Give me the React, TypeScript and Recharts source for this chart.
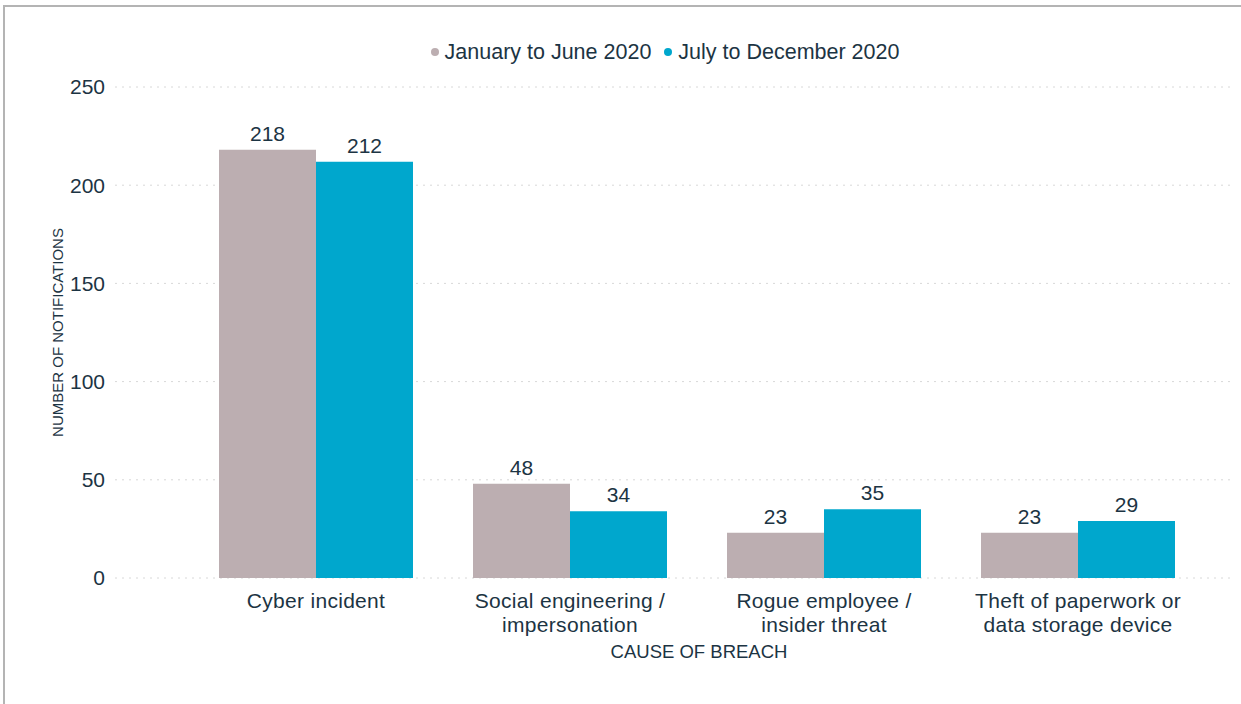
import { BarChart, Bar, XAxis, YAxis, CartesianGrid, Legend, LabelList, Label } from "recharts";

const categoryLines = [
  ["Cyber incident"],
  ["Social engineering /", "impersonation"],
  ["Rogue employee /", "insider threat"],
  ["Theft of paperwork or", "data storage device"],
];
const categories = categoryLines.map((l) => l.join(" "));
const janToJun = [218, 48, 23, 23];
const julToDec = [212, 34, 35, 29];
const yTicks = [0, 50, 100, 150, 200, 250];

const seriesNames = ["January to June 2020", "July to December 2020"];
const colors = ["#bcaeb1", "#00a7cd"];
const ink = "#1c3443";
const font = "'Liberation Sans', Arial, sans-serif";

const data = categories.map((name, i) => ({ name, h1: janToJun[i], h2: julToDec[i] }));

function CategoryTick({ x, y, payload, index }: any) {
  const lines = categoryLines[index] ?? [payload.value];
  return (
    <text x={x} y={y + 22} textAnchor="middle" fill={ink} fontSize={21} letterSpacing={0.3} fontFamily={font}>
      {lines.map((l: string, i: number) => (
        <tspan key={i} x={x} dy={i ? 24 : 0}>
          {l}
        </tspan>
      ))}
    </text>
  );
}

function LegendContent() {
  return (
    <div style={{ display: "flex", justifyContent: "center", alignItems: "center", height: 24, lineHeight: "24px", fontFamily: font, fontSize: 21.5, color: ink }}>
      {seriesNames.map((n, i) => (
        <div key={n} style={{ display: "flex", alignItems: "center", marginLeft: i ? 13 : 0 }}>
          <span style={{ width: 8, height: 8, borderRadius: "50%", background: colors[i], marginRight: 6, display: "inline-block" }} />
          {n}
        </div>
      ))}
    </div>
  );
}

function XTitle({ viewBox }: any) {
  const cx = viewBox.x + viewBox.width / 2 + 24;
  return (
    <text x={cx} y={658} textAnchor="middle" fill={ink} fontSize={18.5} fontFamily={font}>
      CAUSE OF BREACH
    </text>
  );
}

export default function App() {
  return (
    <div style={{ position: "absolute", left: 0, top: 0, width: 1241, height: 704, background: "#fff" }}>
      <div style={{ position: "absolute", left: 3, top: 5, width: 1238, height: 699, borderLeft: "2px solid #b4b4b4", borderTop: "2px solid #b4b4b4", boxSizing: "border-box" }} />
      <BarChart
        width={1241}
        height={704}
        data={data}
        margin={{ top: 63, right: 6, bottom: 0, left: 0 }}
        barGap={0}
        barCategoryGap={30}
      >
        <CartesianGrid vertical={false} stroke="#d8d8d8" strokeDasharray="2 5" />
        <XAxis
          dataKey="name"
          axisLine={false}
          tickLine={false}
          interval={0}
          padding={{ left: 74, right: 30 }}
          tick={<CategoryTick />}
          height={126}
        >
          <Label content={<XTitle />} />
        </XAxis>
        <YAxis
          domain={[0, 250]}
          ticks={yTicks}
          axisLine={false}
          tickLine={false}
          tickMargin={4}
          width={115}
          tick={{ fill: ink, fontSize: 21, fontFamily: font }}
        >
          <Label
            value="NUMBER OF NOTIFICATIONS"
            angle={-90}
            position="center"
            fill={ink}
            fontSize={15}
            fontFamily={font}
          />
        </YAxis>
        <Legend
          verticalAlign="top"
          content={<LegendContent />}
          wrapperStyle={{ top: 40, left: 0, width: 1330 }}
        />
        <Bar dataKey="h1" name={seriesNames[0]} fill={colors[0]} isAnimationActive={false}>
          <LabelList dataKey="h1" position="top" offset={9} fill={ink} fontSize={21} fontFamily={font} />
        </Bar>
        <Bar dataKey="h2" name={seriesNames[1]} fill={colors[1]} isAnimationActive={false}>
          <LabelList dataKey="h2" position="top" offset={9} fill={ink} fontSize={21} fontFamily={font} />
        </Bar>
      </BarChart>
    </div>
  );
}
